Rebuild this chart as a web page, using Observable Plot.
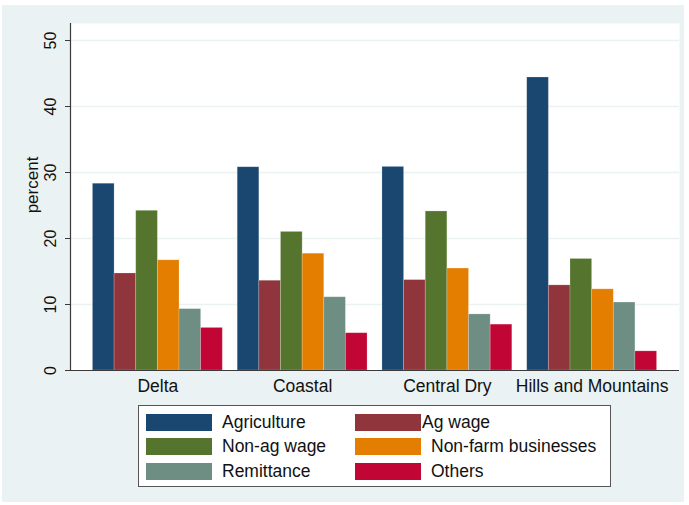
<!DOCTYPE html>
<html>
<head>
<meta charset="utf-8">
<script src="https://cdn.jsdelivr.net/npm/d3@7"></script>
<script src="https://cdn.jsdelivr.net/npm/@observablehq/plot@0.6"></script>
<style>
  html, body { margin: 0; padding: 0; background: #ffffff; }
  #wrap { position: relative; width: 689px; height: 505px; overflow: hidden; font-family: "Liberation Sans", Arial, sans-serif; }
  #panel { position: absolute; left: 2px; top: 5px; width: 682px; height: 497px; background: #eaf2f3; }
  .layer { position: absolute; left: 0; top: 0; }
  #legend { position: absolute; left: 138px; top: 405px; width: 473px; height: 82px; box-sizing: border-box;
            border: 1px solid #555; background: #ffffff; padding: 4px 0 0 7px;
            display: grid; grid-template-columns: 209px auto; grid-auto-rows: 24.5px; }
  .item { display: flex; align-items: center; font-size: 17.5px; color: #111; }
  .sw { width: 66px; height: 17px; margin-right: 10px; flex: none; }
</style>
</head>
<body>
<div id="wrap">
  <div id="panel"></div>
  <div id="bg" class="layer"></div>
  <div id="bars" class="layer"></div>
  <div id="axes" class="layer"></div>
  <div id="legend"></div>
</div>
<script>
const regions = ["Delta", "Coastal", "Central Dry", "Hills and Mountains"];
const sources = ["Agriculture", "Ag wage", "Non-ag wage", "Non-farm businesses", "Remittance", "Others"];
const agriculture = [28.3, 30.8, 30.85, 44.4];
const agWage = [14.7, 13.6, 13.7, 12.9];
const nonAgWage = [24.2, 21.0, 24.1, 16.9];
const nonFarm = [16.7, 17.7, 15.45, 12.3];
const remittance = [9.3, 11.1, 8.5, 10.3];
const others = [6.45, 5.65, 6.95, 2.9];
const yTicks = [0, 10, 20, 30, 40, 50];
const colors = ["#1a476f", "#90353b", "#55752f", "#e37e00", "#6e8e84", "#c10534"];
const yLabel = "percent";

const series = [agriculture, agWage, nonAgWage, nonFarm, remittance, others];
const data = [];
regions.forEach((r, i) => sources.forEach((s, j) => data.push({region: r, source: s, value: series[j][i]})));

const W = 689, H = 400;
const common = {
  width: W, height: H, marginLeft: 70, marginRight: 10, marginTop: 23, marginBottom: 30,
  style: {background: "transparent", fontFamily: "Liberation Sans, Arial, sans-serif"},
};
const yScale = {domain: [0, 52.58], axis: null};

// Layer 1: white plot region and gridlines
document.getElementById("bg").append(Plot.plot({
  ...common,
  x: {domain: [0, 1], axis: null},
  y: yScale,
  marks: [
    Plot.frame({fill: "#ffffff", stroke: null}),
    Plot.ruleY(yTicks.filter(d => d > 0), {stroke: "#eaf2f3", strokeWidth: 1.5})
  ]
}));

// Layer 2: grouped bars
document.getElementById("bars").append(Plot.plot({
  ...common,
  fx: {domain: regions, paddingInner: 0.103, paddingOuter: 0.155, round: false, label: null},
  x: {domain: sources, padding: 0, round: false, axis: null},
  y: yScale,
  color: {domain: sources, range: colors},
  marks: [
    Plot.barY(data, {fx: "region", x: "source", y: "value", fill: "source", inset: 0,
                     stroke: "#ffffff", strokeOpacity: 0.25, strokeWidth: 0.8}),
    Plot.axisFx({anchor: "bottom", tickSize: 0, tickPadding: 9, fontSize: 17.5, label: null, fill: "#111"})
  ]
}));

// Layer 3: axis lines, ticks and labels
document.getElementById("axes").append(Plot.plot({
  ...common,
  x: {domain: [0, 1], axis: null},
  y: yScale,
  marks: [
    Plot.ruleX([0], {stroke: "#3a3a3a", strokeWidth: 1.2}),
    Plot.ruleY([0], {stroke: "#3a3a3a", strokeWidth: 1.2}),
    Plot.axisY({ticks: yTicks, tickSize: 5, tickFormat: () => "", label: null, stroke: "#3a3a3a"}),
    Plot.text(yTicks, {x: 0, y: d => d, text: d => String(d), rotate: -90, dx: -20,
                       lineAnchor: "middle", textAnchor: "middle", fontSize: 16, fill: "#111"}),
    Plot.text([yLabel], {frameAnchor: "left", rotate: -90, dx: -38, dy: -12,
                         lineAnchor: "middle", textAnchor: "middle", fontSize: 17, fill: "#111"})
  ]
}));

// Legend
const leg = document.getElementById("legend");
sources.forEach((s, j) => {
  const it = document.createElement("div");
  it.className = "item";
  const sw = document.createElement("span");
  sw.className = "sw";
  sw.style.background = colors[j];
  if (s === "Ag wage") sw.style.marginRight = "1px";
  const t = document.createElement("span");
  t.textContent = s;
  it.append(sw, t);
  leg.append(it);
});
</script>
</body>
</html>
